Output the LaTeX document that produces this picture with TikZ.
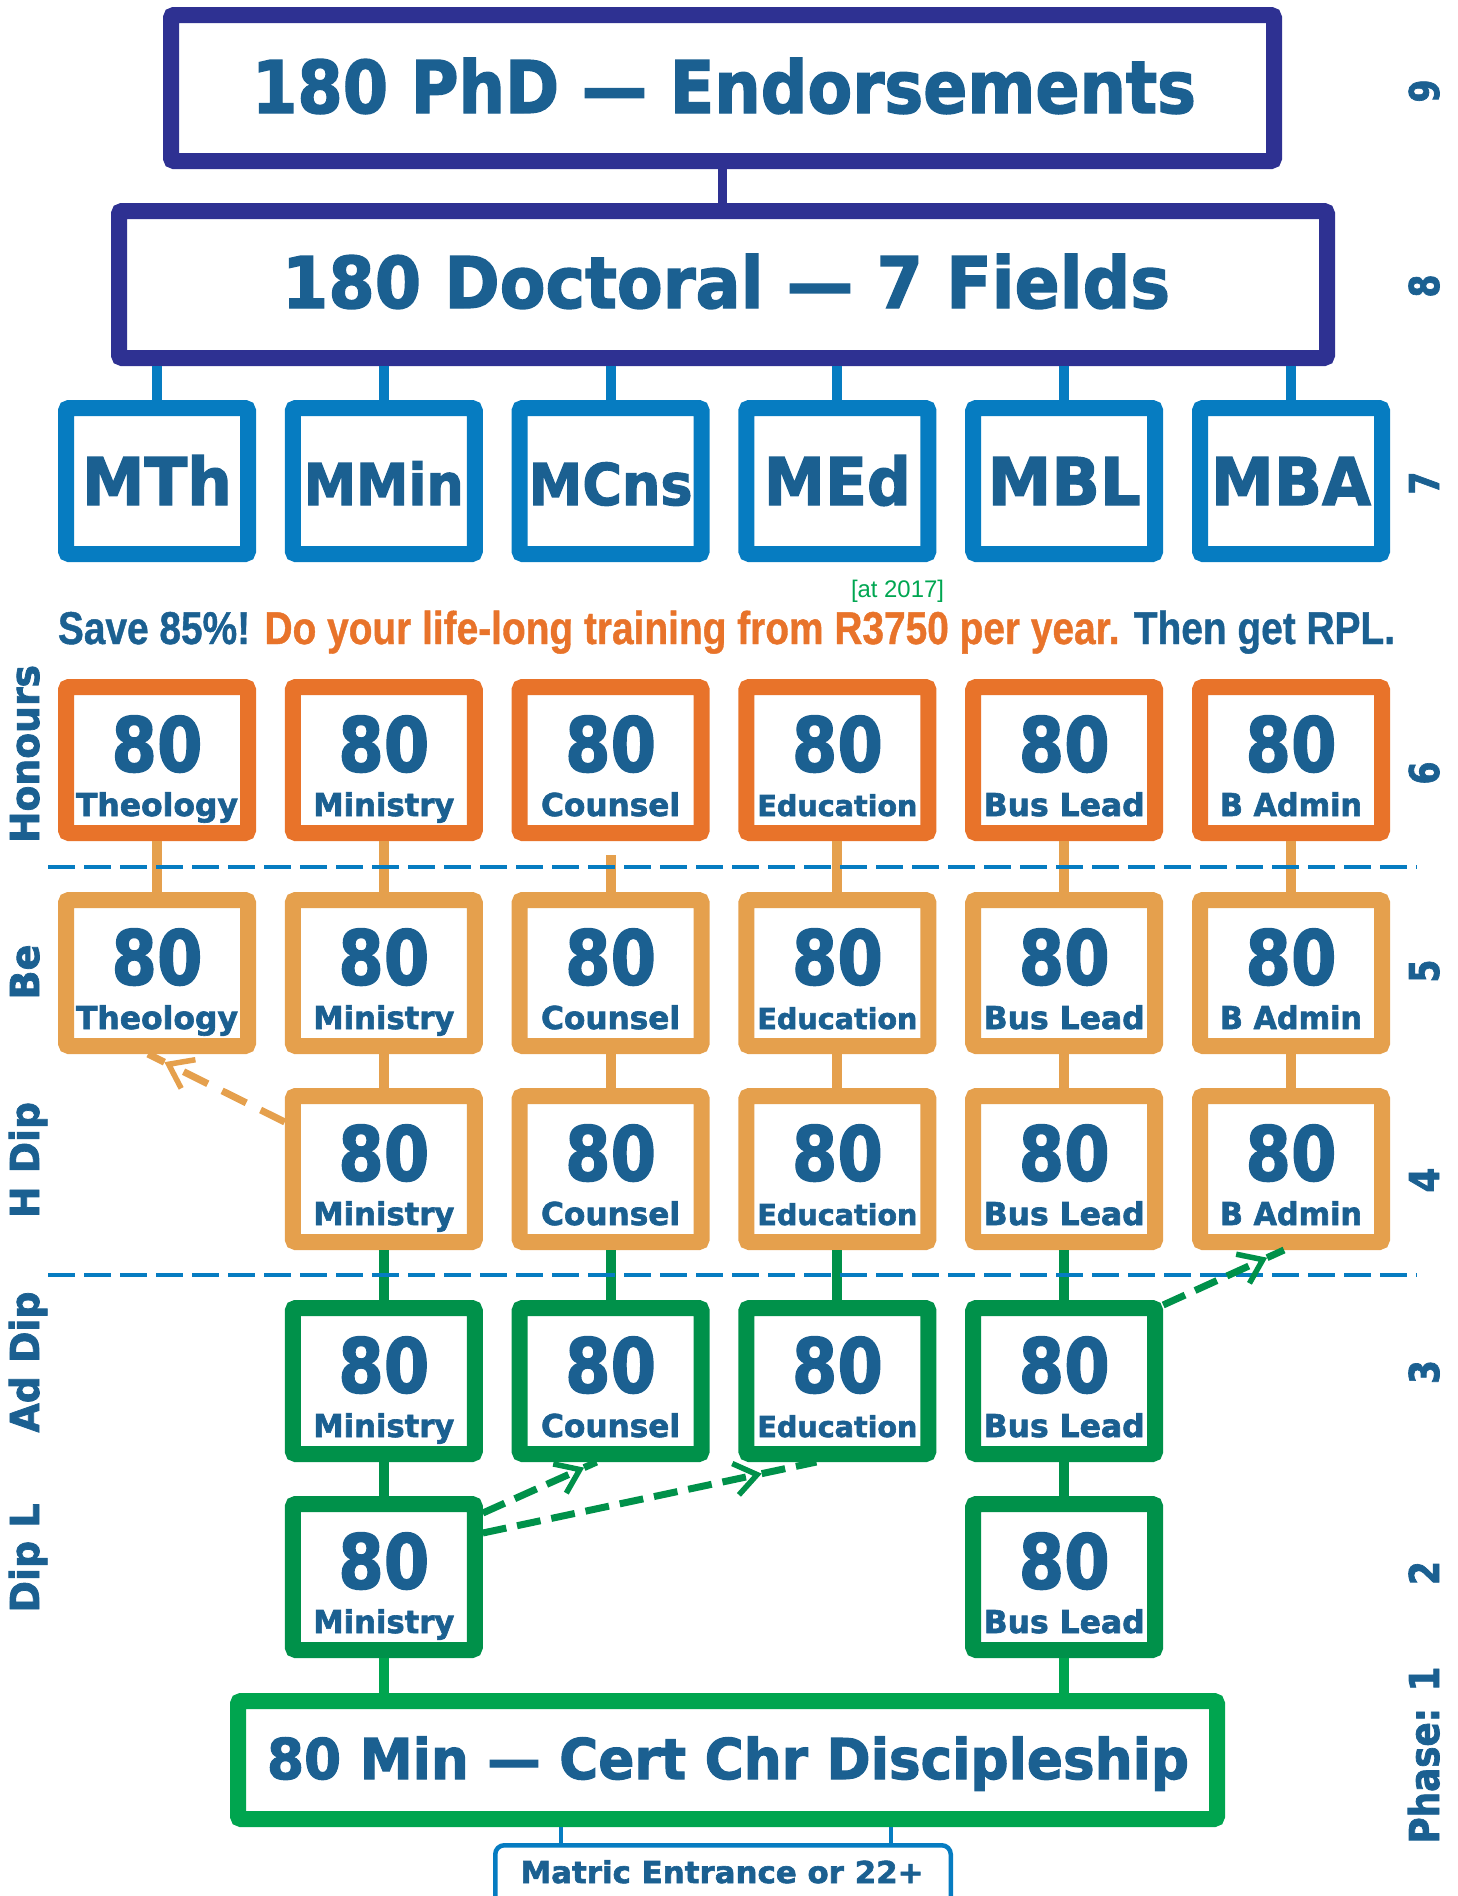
\documentclass[tikz,border=0pt]{standalone}
\usepackage{fontspec}
\usepackage{graphicx}
\usetikzlibrary{calc,arrows.meta}
\newfontfamily\dvs{DejaVu Sans}[BoldFeatures={FakeBold=2}]
\newfontfamily\lib{Liberation Sans}[BoldFeatures={FakeBold=1}]
\definecolor{navy}{HTML}{2E3192}
\definecolor{tblue}{HTML}{1B6091}
\definecolor{mblue}{HTML}{067CC1}
\definecolor{horange}{HTML}{E8732A}
\definecolor{lorange}{HTML}{E5A04D}
\definecolor{dgreen}{HTML}{00914A}
\definecolor{bgreen}{HTML}{00A54F}
\definecolor{lgreen}{HTML}{00A651}
\newcommand\fw[2]{\resizebox{#1pt}{\height}{#2}}
\newcommand\fsz[1]{\fontsize{#1pt}{#1pt}\selectfont}
\newcommand\gcell[7]{%
  \node[cell=#4, anchor=north] (#1) at (#2,#3) {};
  \node[num, anchor=base] (#1n) at ($(#1.north)+(0,92.5)$) {\fw{91}{80}};
  \node[txt, font=\dvs\bfseries\fsz{#7}, anchor=base] (#1l) at ($(#1.north)+(0,137)$) {\fw{#6}{#5}};
}
\begin{document}
\begin{tikzpicture}[x=1pt,y=-1pt,
  cell/.style={draw=#1, fill=white, line width=16pt, rounded corners=3pt,
    minimum width=182pt, minimum height=146pt, inner sep=0pt, outer sep=8pt},
  txt/.style={text=tblue, inner sep=0pt},
  num/.style={txt, font=\dvs\bfseries\fsz{75.4}},
  conn/.style={line width=10pt},
  sepline/.style={draw=mblue, line width=3.5pt, dash pattern=on 27pt off 9pt},
  garrow/.style={draw=dgreen, line width=7pt, dash pattern=on 24pt off 11pt},
  oarrow/.style={draw=lorange, line width=7pt, dash pattern=on 27pt off 16pt},
  barb/.style={-{Straight Barb[length=22pt,width=32pt,line width=5.5pt]}},
  side/.style={txt, font=\dvs\bfseries\fsz{39.8}, rotate=90, anchor=base},
  phase/.style={txt, font=\dvs\bfseries\fsz{41}, rotate=90, anchor=base}]
\useasboundingbox (0,0) rectangle (1457,1896);
\clip (0,0) rectangle (1457,1896);

% ---- top boxes
\node[cell=navy, minimum width=1103pt, minimum height=146pt] (phd) at (722.5,88) {};
\node[txt, font=\dvs\bfseries\fsz{72.7}, anchor=base] (phdt) at (724,113) {\fw{944}{180 PhD — Endorsements}};
\node[cell=navy, minimum width=1208pt, minimum height=147pt] (doc) at (723,284.5) {};
\node[txt, font=\dvs\bfseries\fsz{71.3}, anchor=base] (doct) at (726,308) {\fw{888}{180 Doctoral — 7 Fields}};

% ---- masters
\node[cell=mblue, anchor=north] (mth) at (157,400) {};
\node[txt, font=\dvs\bfseries\fsz{65.8}, anchor=base] (mtht) at ($(mth.north)+(0,105)$) {\fw{150}{MTh}};
\node[cell=mblue, anchor=north] (mmin) at (383.8,400) {};
\node[txt, font=\dvs\bfseries\fsz{57.6}, anchor=base] (mmint) at ($(mmin.north)+(0,105)$) {\fw{160}{MMin}};
\node[cell=mblue, anchor=north] (mcns) at (610.6,400) {};
\node[txt, font=\dvs\bfseries\fsz{57.6}, anchor=base] (mcnst) at ($(mcns.north)+(0,105)$) {\fw{164}{MCns}};
\node[cell=mblue, anchor=north] (med) at (837.4,400) {};
\node[txt, font=\dvs\bfseries\fsz{65.8}, anchor=base] (medt) at ($(med.north)+(0,105)$) {\fw{147}{MEd}};
\node[cell=mblue, anchor=north] (mbl) at (1064.2,400) {};
\node[txt, font=\dvs\bfseries\fsz{65.8}, anchor=base] (mblt) at ($(mbl.north)+(0,105)$) {\fw{153}{MBL}};
\node[cell=mblue, anchor=north] (mba) at (1291,400) {};
\node[txt, font=\dvs\bfseries\fsz{65.8}, anchor=base] (mbat) at ($(mba.north)+(0,105)$) {\fw{160}{MBA}};

% ---- slogan
\node[font=\lib\fsz{24}, text=lgreen, inner sep=0pt, anchor=base] (at17) at (897.5,597) {\fw{93}{[at 2017]}};
\node[txt, font=\lib\bfseries\fsz{46}, anchor=base] (save) at (726.5,644)
  {\fw{1337}{\textcolor{tblue}{Save 85\%!} \textcolor{horange}{Do your life-long training from R3750 per year.} \textcolor{tblue}{Then get RPL.}}};

% ---- Honours (6)
\gcell{r6c1}{157}{679}{horange}{Theology}{162}{31.5}
\gcell{r6c2}{383.8}{679}{horange}{Ministry}{141}{31.5}
\gcell{r6c3}{610.6}{679}{horange}{Counsel}{139}{31.5}
\gcell{r6c4}{837.4}{679}{horange}{Education}{160}{28.8}
\gcell{r6c5}{1064.2}{679}{horange}{Bus Lead}{161}{31.5}
\gcell{r6c6}{1291}{679}{horange}{B Admin}{142}{31.5}
% ---- Be (5)
\gcell{r5c1}{157}{892}{lorange}{Theology}{162}{31.5}
\gcell{r5c2}{383.8}{892}{lorange}{Ministry}{141}{31.5}
\gcell{r5c3}{610.6}{892}{lorange}{Counsel}{139}{31.5}
\gcell{r5c4}{837.4}{892}{lorange}{Education}{160}{28.8}
\gcell{r5c5}{1064.2}{892}{lorange}{Bus Lead}{161}{31.5}
\gcell{r5c6}{1291}{892}{lorange}{B Admin}{142}{31.5}
% ---- H Dip (4)
\gcell{r4c2}{383.8}{1088}{lorange}{Ministry}{141}{31.5}
\gcell{r4c3}{610.6}{1088}{lorange}{Counsel}{139}{31.5}
\gcell{r4c4}{837.4}{1088}{lorange}{Education}{160}{28.8}
\gcell{r4c5}{1064.2}{1088}{lorange}{Bus Lead}{161}{31.5}
\gcell{r4c6}{1291}{1088}{lorange}{B Admin}{142}{31.5}
% ---- Ad Dip (3)
\gcell{r3c2}{383.8}{1300}{dgreen}{Ministry}{141}{31.5}
\gcell{r3c3}{610.6}{1300}{dgreen}{Counsel}{139}{31.5}
\gcell{r3c4}{837.4}{1300}{dgreen}{Education}{160}{28.8}
\gcell{r3c5}{1064.2}{1300}{dgreen}{Bus Lead}{161}{31.5}
% ---- Dip L (2)
\gcell{r2c2}{383.8}{1496}{dgreen}{Ministry}{141}{31.5}
\gcell{r2c5}{1064.2}{1496}{dgreen}{Bus Lead}{161}{31.5}

% ---- Cert and Matric
\node[cell=bgreen, minimum width=979pt, minimum height=118pt] (cert) at (727.5,1760) {};
\node[txt, font=\dvs\bfseries\fsz{56.2}, anchor=base] (certt) at (728,1779) {\fw{922}{80 Min — Cert Chr Discipleship}};
\node[draw=mblue, fill=white, line width=4.5pt, rounded corners=9pt, minimum width=455.5pt,
  minimum height=80pt, inner sep=0pt, outer sep=2.25pt, anchor=north] (matric) at (723,1843) {};
\node[txt, font=\dvs\bfseries\fsz{30.2}, anchor=base] (matrict) at (722,1883) {\fw{403}{Matric Entrance or 22+}};

% ---- connectors
\draw[navy, line width=9pt] (phd.south) -- (phd.south |- doc.north);
\foreach \m in {mth,mmin,mcns,med,mbl,mba}
  \draw[mblue, conn] (\m.north) -- (\m.north |- doc.south);
\foreach \c in {1,2,4,5,6}
  \draw[lorange, conn] (r6c\c.south) -- (r5c\c.north);
\draw[lorange, conn] ($(r6c3.south)+(0,14)$) -- (r5c3.north);
\foreach \c in {2,3,4,5,6}
  \draw[lorange, conn] (r5c\c.south) -- (r4c\c.north);
\foreach \c in {2,3,4,5}
  \draw[dgreen, conn] (r4c\c.south) -- (r3c\c.north);
\foreach \c in {2,5}
  \draw[dgreen, conn] (r3c\c.south) -- (r2c\c.north);
\foreach \c in {2,5}
  \draw[bgreen, conn] (r2c\c.south) -- (r2c\c.south |- cert.north);
\coordinate (ma) at ($(matric.north)+(-162,0)$);
\coordinate (mb) at ($(matric.north)+(168,0)$);
\draw[mblue, line width=4.5pt] (ma |- cert.south) -- (ma);
\draw[mblue, line width=4.5pt] (mb |- cert.south) -- (mb);

% ---- phase separators
\coordinate (s1a) at (48,867);
\coordinate (s1b) at (1417,867);
\coordinate (s2a) at (48,1275);
\coordinate (s2b) at (1417,1275);
\draw[sepline] (s1a) -- (s1b);
\draw[sepline] (s2a) -- (s2b);

% ---- dashed arrows
\coordinate (oa) at ($(r4c2.north west)+(0,34)$);
\coordinate (ob) at ($(r5c1.south)+(-9,0)$);
\draw[oarrow, barb] (oa) -- ($(oa)!0.88!(ob)$);
\draw[oarrow] ($(oa)!0.88!(ob)$) -- (ob);

\coordinate (g1a) at ($(r3c5.north east)+(0,5)$);
\coordinate (g1b) at ($(r4c6.south)+(-7,0)$);
\draw[garrow, barb] (g1a) -- ($(g1a)!0.86!(g1b)$);
\draw[garrow] ($(g1a)!0.86!(g1b)$) -- (g1b);

\coordinate (g2a) at ($(r2c2.north east)+(0,17)$);
\coordinate (g2b) at ($(r3c3.south)+(-14,0)$);
\draw[garrow, barb] (g2a) -- ($(g2a)!0.89!(g2b)$);
\draw[garrow] ($(g2a)!0.89!(g2b)$) -- (g2b);

\coordinate (g3a) at ($(r2c2.north east)+(0,37)$);
\coordinate (g3b) at ($(r3c4.south)+(-21,0)$);
\draw[garrow, barb] (g3a) -- ($(g3a)!0.836!(g3b)$);
\draw[garrow] ($(g3a)!0.836!(g3b)$) -- (g3b);

% ---- side labels
\node[side] (lhon) at (39,754) {\fw{178}{Honours}};
\node[side] (lbe) at (39,972) {\fw{55}{Be}};
\node[side] (lhd) at (39,1160) {\fw{116}{H Dip}};
\node[side] (lad) at (39,1362) {\fw{141}{Ad Dip}};
\node[side] (ldl) at (39,1558) {\fw{109}{Dip L}};

\node[phase] (p9) at (1439,91) {\fw{23}{9}};
\node[phase] (p8) at (1439,286) {\fw{23}{8}};
\node[phase] (p7) at (1439,483) {\fw{23}{7}};
\node[phase] (p6) at (1439,773) {\fw{23}{6}};
\node[phase] (p5) at (1439,971) {\fw{23}{5}};
\node[phase] (p4) at (1439,1180) {\fw{25}{4}};
\node[phase] (p3) at (1439,1372) {\fw{24}{3}};
\node[phase] (p2) at (1439,1573) {\fw{24}{2}};
\node[phase] (p1) at (1439,1755) {\fw{177}{Phase: 1}};
\end{tikzpicture}
\end{document}
